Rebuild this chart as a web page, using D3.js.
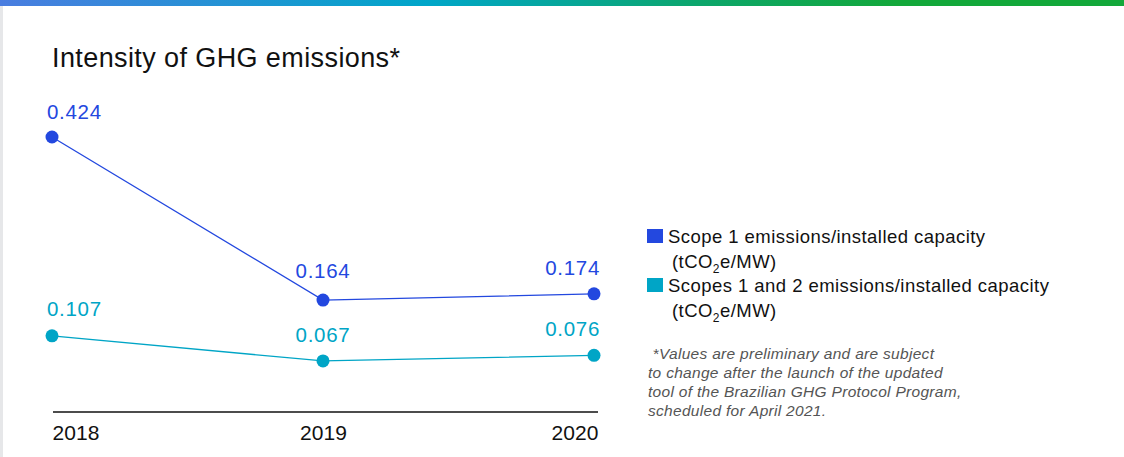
<!DOCTYPE html>
<html>
<head>
<meta charset="utf-8">
<script src="https://cdn.jsdelivr.net/npm/d3@7"></script>
<style>
  html, body { margin: 0; padding: 0; background: #fff; }
  svg { display: block; font-family: "Liberation Sans", Arial, sans-serif; }
</style>
</head>
<body>
<svg id="chart" width="1124" height="457"></svg>
<script>
// Emissions intensity by year
const years = ["2018", "2019", "2020"];
const scope1 = [0.424, 0.164, 0.174];
const scope12 = [0.107, 0.067, 0.076];
const seriesNames = [
  ["Scope 1 emissions/installed capacity", "(tCO", "2", "e/MW)"],
  ["Scopes 1 and 2 emissions/installed capacity", "(tCO", "2", "e/MW)"]
];
const footnote = [
  " *Values are preliminary and are subject",
  "to change after the launch of the updated",
  "tool of the Brazilian GHG Protocol Program,",
  "scheduled for April 2021."
];
const colors = ["#2348df", "#00a5c6"];

const svg = d3.select("#chart");

// Top gradient band
const defs = svg.append("defs");
const grad = defs.append("linearGradient").attr("id", "band").attr("x1", "0").attr("x2", "1");
grad.append("stop").attr("offset", "0").attr("stop-color", "#4a7de0");
grad.append("stop").attr("offset", "0.38").attr("stop-color", "#00a6c9");
grad.append("stop").attr("offset", "0.62").attr("stop-color", "#0ca66c");
grad.append("stop").attr("offset", "0.8").attr("stop-color", "#13a83a");
grad.append("stop").attr("offset", "1").attr("stop-color", "#13a83a");
svg.append("rect").attr("x", 0).attr("y", 0).attr("width", 1124).attr("height", 6).attr("fill", "url(#band)");
svg.append("rect").attr("x", 0).attr("y", 6).attr("width", 3).attr("height", 451).attr("fill", "#e6e7e9");

// Title
svg.append("text").attr("x", 52).attr("y", 67)
  .attr("font-size", 27).attr("letter-spacing", 0.4).attr("fill", "#111")
  .text("Intensity of GHG emissions*");

// Scales
const x = d3.scalePoint().domain(years).range([52, 594]);
const y = d3.scaleLinear().domain([0, 0.424]).range([403, 137]);

// Baseline axis
const axisY = 412;
const axis = svg.append("g").attr("transform", `translate(0,${axisY})`)
  .call(d3.axisBottom(x).tickSize(0).tickPadding(0));
axis.select(".domain").attr("d", "M53,0H598").attr("stroke", "#111").attr("stroke-width", 1.5);
axis.selectAll(".tick text")
  .attr("font-size", 21).attr("letter-spacing", 0.1).attr("fill", "#111")
  .attr("font-family", "Liberation Sans, Arial, sans-serif")
  .attr("dy", 0).attr("y", 28)
  .attr("text-anchor", (d, i) => i === 0 ? "start" : i === years.length - 1 ? "end" : "middle")
  .attr("dx", (d, i) => i === 0 ? 0 : i === years.length - 1 ? 4 : 0);

const line = d3.line().x((d, i) => x(years[i])).y(d => y(d));

// Label offsets per series (above the marker)
const labelDy = [[-18, -22, -19], [-20, -19, -19]];

[scope1, scope12].forEach((vals, s) => {
  const g = svg.append("g");
  g.append("path").datum(vals).attr("d", line)
    .attr("fill", "none").attr("stroke", colors[s]).attr("stroke-width", 1.3);
  g.selectAll("circle").data(vals).join("circle")
    .attr("cx", (d, i) => x(years[i])).attr("cy", d => y(d)).attr("r", 6.5)
    .attr("fill", colors[s]);
  g.selectAll("text").data(vals).join("text")
    .attr("x", (d, i) => x(years[i]) + (i === 0 ? -5 : i === years.length - 1 ? 6 : 0))
    .attr("y", (d, i) => y(d) + labelDy[s][i])
    .attr("text-anchor", (d, i) => i === 0 ? "start" : i === years.length - 1 ? "end" : "middle")
    .attr("font-size", 20.5).attr("letter-spacing", 0.7).attr("fill", colors[s])
    .text(d => d.toFixed(3));
});

// Legend
const legend = svg.append("g");
seriesNames.forEach((nm, s) => {
  const top = 229 + s * 49;
  legend.append("rect").attr("x", 647).attr("y", top).attr("width", 16).attr("height", 14).attr("fill", colors[s]);
  legend.append("text").attr("x", 668).attr("y", top + 13.5).attr("font-size", 18.5)
    .attr("letter-spacing", 0.45).attr("fill", "#111").text(nm[0]);
  const t = legend.append("text").attr("x", 672).attr("y", top + 38.5).attr("font-size", 18.5)
    .attr("letter-spacing", 0.45).attr("fill", "#111");
  t.append("tspan").text(nm[1]);
  t.append("tspan").attr("font-size", 12).attr("dy", 5).text(nm[2]);
  t.append("tspan").attr("dy", -5).text(nm[3]);
});

// Footnote
svg.append("g").selectAll("text").data(footnote).join("text")
  .attr("x", 648).attr("y", (d, i) => 359 + i * 19)
  .attr("font-size", 15.5).attr("letter-spacing", 0.3).attr("font-style", "italic").attr("fill", "#555")
  .attr("xml:space", "preserve")
  .text(d => d);
</script>
</body>
</html>
